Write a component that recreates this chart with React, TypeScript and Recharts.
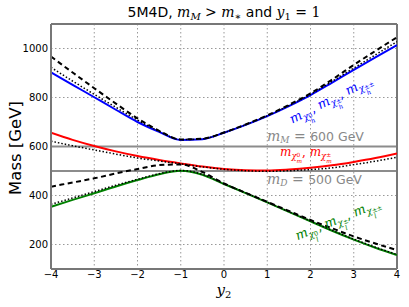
import React from "react";
import { LineChart, Line, XAxis, YAxis, CartesianGrid, ReferenceLine } from "recharts";

const xs = [-4, -3.5, -3, -2.5, -2, -1.5, -1, -0.5, 0, 0.5, 1, 1.5, 2, 2.5, 3, 3.5, 4];
const heavy = [903, 852, 801, 750, 700, 660, 627, 630, 656, 688, 724, 765, 810, 861, 913, 964, 1014];
const heavyDashed = [967, 902, 838, 775, 715, 664, 629, 632, 657, 690, 727, 770, 817, 873, 933, 990, 1046];
const heavyDotted = [923, 867, 813, 760, 708, 662, 628, 631, 657, 689, 725, 767, 813, 866, 920, 974, 1028];
const middle = [656, 627, 602, 580, 561, 545, 531, 518, 508, 503, 502, 506, 513, 523, 537, 553, 572];
const middleDotted = [622, 603, 586, 569, 553, 541, 529, 517, 507, 501, 499, 501, 506, 513, 526, 540, 556];
const light = [354, 382, 409, 437, 463, 487, 501, 485, 447, 410, 372, 333, 295, 256, 220, 187, 157];
const lightDashed = [436, 453, 470, 490, 508, 524, 527, 496, 449, 411, 374, 337, 300, 266, 233, 204, 177];
const lightDotted = [364, 390, 416, 442, 466, 489, 502, 486, 448, 411, 373, 334, 296, 258, 222, 189, 159];

const xTicks = [-4, -3, -2, -1, 0, 1, 2, 3, 4];
const yTicks = [200, 400, 600, 800, 1000];
const mMass = 600;
const dMass = 500;

const data = xs.map((x, i) => ({
  x,
  heavy: heavy[i],
  heavyDashed: heavyDashed[i],
  heavyDotted: heavyDotted[i],
  middle: middle[i],
  middleDotted: middleDotted[i],
  light: light[i],
  lightDashed: lightDashed[i],
  lightDotted: lightDotted[i],
}));

const fmt = (v: number) => (v < 0 ? "\u2212" + Math.abs(v) : String(v));

const serif = "'DejaVu Serif', 'Liberation Serif', serif";
const sans = "'DejaVu Sans', sans-serif";

function Stack({ sup, sub, w }: { sup: string; sub: string; w: number }) {
  return (
    <span
      style={{
        position: "relative",
        display: "inline-block",
        width: w + "em",
        height: "0.8em",
        fontSize: "0.7em",
      }}
    >
      <span style={{ position: "absolute", left: 0, top: "-0.6em", fontStyle: "normal", fontFamily: sans }}>{sup}</span>
      <span style={{ position: "absolute", left: 0, top: "0.35em", fontStyle: "italic" }}>{sub}</span>
    </span>
  );
}

function MChi({ s, p }: { s: string; p: string }) {
  const w = Math.max(p.length * 0.8, s === "m" ? 0.95 : s === "l" ? 0.35 : 0.65);
  return (
    <span style={{ whiteSpace: "nowrap" }}>
      <span style={{ fontStyle: "italic" }}>m</span>
      <span style={{ fontSize: "0.7em", position: "relative", top: "0.3em" }}>
        <span style={{ fontStyle: "italic" }}>χ</span>
        <Stack sup={p} sub={s} w={w} />
      </span>
    </span>
  );
}

export default function App() {
  return (
    <div style={{ position: "absolute", left: 0, top: 0, width: 409, height: 307, background: "#fff" }}>
      <LineChart
        width={409}
        height={307}
        data={data}
        margin={{ top: 24, right: 12, bottom: 18, left: 11 }}
      >
        <CartesianGrid stroke="#999" strokeDasharray="1.5 2.5" strokeWidth={1} />
        <XAxis
          dataKey="x"
          type="number"
          domain={[-4, 4]}
          ticks={xTicks}
          tickFormatter={fmt}
          tick={{ fontSize: 10, fill: "#000", fontFamily: sans }}
          tickLine={false}
          tickSize={0}
          tickMargin={2}
          axisLine={{ stroke: "#777", strokeWidth: 2 }}
          height={20}
          allowDataOverflow
        />
        <YAxis
          type="number"
          domain={[100, 1100]}
          ticks={yTicks}
          tick={{ fontSize: 10, fill: "#000", fontFamily: sans }}
          tickLine={false}
          tickSize={0}
          tickMargin={3}
          axisLine={{ stroke: "#777", strokeWidth: 2 }}
          width={40}
          allowDataOverflow
        />
        <ReferenceLine y={mMass} stroke="#8c8c8c" strokeWidth={2} ifOverflow="hidden" />
        <ReferenceLine y={dMass} stroke="#8c8c8c" strokeWidth={2} ifOverflow="hidden" />
        <ReferenceLine x={4} stroke="#777" strokeWidth={2} />
        <ReferenceLine y={1100} stroke="#777" strokeWidth={2} />
        <Line type="monotone" dataKey="heavy" stroke="#0000ff" strokeWidth={2} dot={false} isAnimationActive={false} />
        <Line type="monotone" dataKey="middle" stroke="#ff0000" strokeWidth={2} dot={false} isAnimationActive={false} />
        <Line type="monotone" dataKey="light" stroke="#008000" strokeWidth={2} dot={false} isAnimationActive={false} />
        <Line type="monotone" dataKey="heavyDashed" stroke="#000" strokeWidth={2} strokeDasharray="5 3.5" dot={false} isAnimationActive={false} />
        <Line type="monotone" dataKey="lightDashed" stroke="#000" strokeWidth={2} strokeDasharray="5 3.5" dot={false} isAnimationActive={false} />
        <Line type="monotone" dataKey="heavyDotted" stroke="#000" strokeWidth={1.5} strokeDasharray="1.5 2" dot={false} isAnimationActive={false} />
        <Line type="monotone" dataKey="middleDotted" stroke="#000" strokeWidth={1.5} strokeDasharray="1.5 2" dot={false} isAnimationActive={false} />
        <Line type="monotone" dataKey="lightDotted" stroke="#000" strokeWidth={1.5} strokeDasharray="1.5 2" dot={false} isAnimationActive={false} />
      </LineChart>

      {/* title */}
      <div
        style={{
          position: "absolute",
          left: 0,
          width: 448,
          top: 4,
          textAlign: "center",
          fontFamily: sans,
          fontSize: 14,
          lineHeight: "16px",
          whiteSpace: "nowrap",
        }}
      >
        5M4D, <span style={{ fontFamily: serif, fontStyle: "italic" }}>m</span>
        <span style={{ fontFamily: serif, fontStyle: "italic", fontSize: 10, position: "relative", top: 3 }}>M</span>
        <span style={{ fontFamily: serif }}> &gt; </span>
        <span style={{ fontFamily: serif, fontStyle: "italic" }}>m</span>
        <span style={{ fontFamily: serif, fontSize: 10, position: "relative", top: 3 }}>∗</span> and{" "}
        <span style={{ fontFamily: serif, fontStyle: "italic" }}>y</span>
        <span style={{ fontFamily: serif, fontSize: 10, position: "relative", top: 3 }}>1</span>
        <span style={{ fontFamily: serif }}> = 1</span>
      </div>

      {/* y axis label */}
      <div
        style={{
          position: "absolute",
          left: 16,
          top: 148,
          transform: "translate(-50%, -50%) rotate(-90deg)",
          fontFamily: sans,
          fontSize: 16.5,
          lineHeight: "18px",
          whiteSpace: "nowrap",
        }}
      >
        Mass [GeV]
      </div>

      {/* x axis label */}
      <div
        style={{
          position: "absolute",
          left: 224,
          top: 291,
          transform: "translate(-50%, -50%)",
          fontFamily: serif,
          fontSize: 15,
          lineHeight: "14px",
          whiteSpace: "nowrap",
        }}
      >
        <span style={{ fontStyle: "italic" }}>y</span>
        <span style={{ fontSize: 10, position: "relative", top: 3 }}>2</span>
      </div>

      {/* heavy label */}
      <div
        style={{
          position: "absolute",
          left: 331,
          top: 100,
          transform: "translate(-50%, -50%) rotate(-27deg)",
          fontFamily: serif,
          fontSize: 13,
          lineHeight: "14px",
          color: "#0000ff",
          whiteSpace: "nowrap",
        }}
      >
        <MChi s="h" p="0" />, <MChi s="h" p="±" />, <MChi s="h" p="±±" />
      </div>

      {/* m_M label */}
      <div
        style={{
          position: "absolute",
          left: 267,
          top: 129,
          fontFamily: sans,
          fontSize: 12.5,
          color: "#888",
          whiteSpace: "nowrap",
          lineHeight: "14px",
        }}
      >
        <span style={{ fontFamily: serif, fontStyle: "italic", fontSize: 14 }}>m</span>
        <span style={{ fontFamily: serif, fontStyle: "italic", fontSize: 9, position: "relative", top: 2 }}>M</span>
        <span style={{ fontFamily: serif, fontSize: 14 }}> = </span>
        <span>600 GeV</span>
      </div>

      {/* middle label */}
      <div
        style={{
          position: "absolute",
          left: 280,
          top: 147,
          fontFamily: serif,
          fontSize: 12,
          color: "#ff0000",
          whiteSpace: "nowrap",
          lineHeight: "11px",
        }}
      >
        <MChi s="m" p="0" />, <MChi s="m" p="±" />
      </div>

      {/* m_D label */}
      <div
        style={{
          position: "absolute",
          left: 267,
          top: 172,
          fontFamily: sans,
          fontSize: 12.5,
          color: "#888",
          whiteSpace: "nowrap",
          lineHeight: "14px",
        }}
      >
        <span style={{ fontFamily: serif, fontStyle: "italic", fontSize: 14 }}>m</span>
        <span style={{ fontFamily: serif, fontStyle: "italic", fontSize: 9, position: "relative", top: 2 }}>D</span>
        <span style={{ fontFamily: serif, fontSize: 14 }}> = </span>
        <span>500 GeV</span>
      </div>

      {/* light label */}
      <div
        style={{
          position: "absolute",
          left: 338,
          top: 220,
          transform: "translate(-50%, -50%) rotate(-22deg)",
          fontFamily: serif,
          fontSize: 13,
          lineHeight: "14px",
          color: "#008000",
          whiteSpace: "nowrap",
        }}
      >
        <MChi s="l" p="0" />, <MChi s="l" p="±" />, <MChi s="l" p="±±" />
      </div>
    </div>
  );
}
